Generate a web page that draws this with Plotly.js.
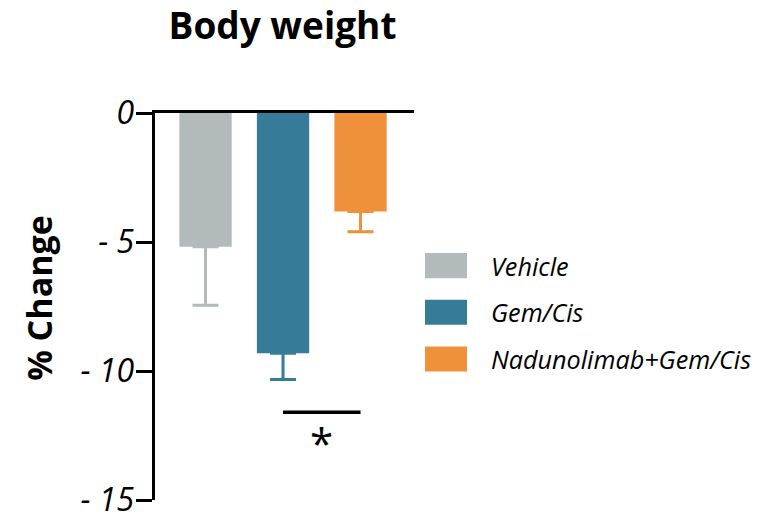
<!DOCTYPE html>
<html>
<head>
<meta charset="utf-8">
<script src="https://cdn.plot.ly/plotly-3.0.1.min.js"></script>
<style>html,body{margin:0;padding:0;background:#fff;}#chart{width:762px;height:516px;}</style>
</head>
<body>
<div id="chart"></div>
<script>
// ---- data ----
const categories = ["Vehicle", "Gem/Cis", "Nadunolimab+Gem/Cis"];
const meanChange = [-5.18, -9.31, -3.82];
const errorDown = [2.27, 1.02, 0.78];
const colors = ["#b3babb", "#367c99", "#ee913a"];
const tickValues = [0, -5, -10, -15];
const tickLabels = ["0", "- 5", "- 10", "- 15"];
const sigPair = [1, 2];
const sigLevel = -11.6;
const sigMark = "*";

// ---- layout helpers (pixel -> paper) ----
const W = 762, H = 516;
const L = 155, R = 414, T = 113.3, B = 500;
const px = x => (x - L) / (R - L);
const py = y => (B - y) / (B - T);

const FONT = "Open Sans";

const traces = categories.map((c, i) => ({
  type: "bar",
  x: [c],
  y: [meanChange[i]],
  width: 0.675,
  marker: {color: colors[i], line: {width: 0}},
  error_y: {
    type: "data", symmetric: false,
    array: [0], arrayminus: [errorDown[i]],
    color: colors[i], thickness: 3, width: 13
  },
  showlegend: false,
  hoverinfo: "none"
}));

const shapes = [];
const annotations = [];

// significance bar
shapes.push({
  type: "line", xref: "x", yref: "y",
  x0: sigPair[0], x1: sigPair[1], y0: sigLevel, y1: sigLevel,
  line: {color: "#000", width: 3.5}
});
annotations.push({
  xref: "x", yref: "y", x: (sigPair[0] + sigPair[1]) / 2, y: sigLevel,
  yanchor: "top", yshift: 0,
  text: sigMark, showarrow: false,
  font: {family: FONT, size: 42, color: "#000"}
});

// y-axis title
annotations.push({
  xref: "paper", yref: "paper", x: px(39), y: py(298),
  xanchor: "center", yanchor: "middle", textangle: -90, showarrow: false,
  text: "% Change",
  font: {family: FONT, size: 34, color: "#000", weight: "bold"}
});

// custom legend
const swTop = [253.3, 300, 346.7];
categories.forEach((c, i) => {
  shapes.push({
    type: "rect", xref: "paper", yref: "paper",
    x0: px(425), x1: px(467), y0: py(swTop[i] + 25), y1: py(swTop[i]),
    fillcolor: colors[i], line: {width: 0}
  });
  annotations.push({
    xref: "paper", yref: "paper", x: px(489), y: py(swTop[i] + 12.5),
    xanchor: "left", yanchor: "middle", showarrow: false,
    text: c,
    font: {family: FONT, size: 25.2, color: "#000", style: "italic"}
  });
});

const layout = {
  width: W, height: H,
  margin: {l: L, r: W - R, t: T, b: H - B, pad: 0},
  paper_bgcolor: "#fff", plot_bgcolor: "#fff",
  barmode: "overlay",
  title: {
    text: "Body weight",
    x: (0.5 * (L + R) - 2) / W, xanchor: "center",
    y: 1 - 26 / H, yanchor: "middle",
    font: {family: FONT, size: 37, color: "#000", weight: "bold"}
  },
  xaxis: {
    type: "category",
    range: [-0.652, 2.69],
    side: "top",
    showline: true, linecolor: "#000", linewidth: 3.5,
    showticklabels: false, ticks: "", showgrid: false, zeroline: false,
    fixedrange: true
  },
  yaxis: {
    range: [-15, 0],
    tickvals: tickValues, ticktext: tickLabels,
    ticks: "outside", ticklen: 16, tickwidth: 3, tickcolor: "#000",
    ticklabeloverflow: "allow",
    ticklabelstandoff: -5,
    showline: true, linecolor: "#000", linewidth: 3.5,
    showgrid: false, zeroline: false,
    tickfont: {family: FONT, size: 32, color: "#000", style: "italic"},
    fixedrange: true
  },
  shapes: shapes,
  annotations: annotations,
  showlegend: false
};

Plotly.newPlot("chart", traces, layout, {staticPlot: true, displayModeBar: false});
</script>
</body>
</html>
